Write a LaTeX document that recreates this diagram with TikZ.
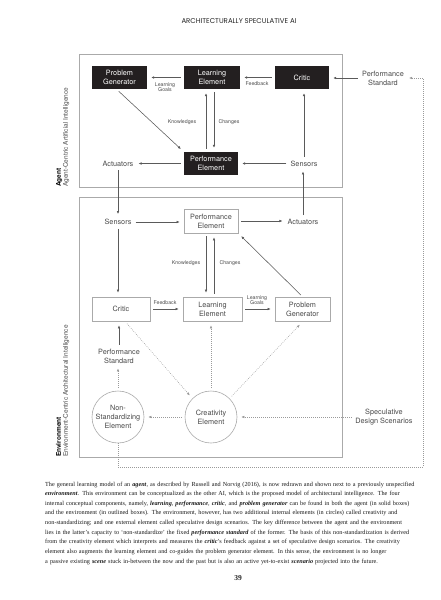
\documentclass[tikz,border=0pt]{standalone}
\usepackage{fontspec}
\setmainfont{Liberation Serif}
\newfontfamily\hv{TeX Gyre Heros}
\newfontfamily\popfont{Poppins}
\usetikzlibrary{arrows.meta,calc}
\definecolor{boxblack}{HTML}{231F20}
\definecolor{txtgray}{HTML}{4A4A4A}
\definecolor{linegray}{HTML}{5A5A5A}
\definecolor{framegray}{HTML}{AAAAAA}
\definecolor{dotgray}{HTML}{9A9A9A}
\newcommand{\bitx}[1]{\textbf{\textit{#1}}}
\begin{document}
\begin{tikzpicture}[x=1pt,y=-1pt,
  nf/.style={font=\hv\fontsize{7.3}{9}\selectfont},
  bbox/.style={nf, rectangle, fill=boxblack, text=white, minimum height=23pt, align=center, inner sep=0pt},
  obox/.style={nf, rectangle, draw=framegray, line width=0.7pt, text=txtgray, minimum height=24pt, align=center, inner sep=0pt},
  ptxt/.style={nf, text=txtgray, align=center, inner sep=1pt},
  circ/.style={nf, circle, draw=framegray, line width=0.6pt, text=txtgray, minimum size=52pt, align=center, inner sep=0pt},
  lbl/.style={font=\hv\fontsize{5.2}{5.6}\selectfont, text=txtgray, align=center, inner sep=0pt},
  arr/.style={-{Latex[length=3pt,width=2.6pt]}, line width=0.55pt, draw=linegray, shorten >=4pt, shorten <=3pt},
  darr/.style={arr, draw=dotgray, dash pattern=on 0.7pt off 1.3pt},
  frame/.style={draw=framegray, line width=0.8pt},
  side/.style={rotate=90, anchor=south west, inner sep=0pt, align=left, font=\hv\fontsize{6.5}{7}\selectfont, text=txtgray}
]
\useasboundingbox (0,0) rectangle (441,600);
\fill[white] (0,0) rectangle (441,600);

% header
\node[font=\popfont\fontsize{7}{8}\selectfont, text=black!85] (hdr) at (239,21) {ARCHITECTURALLY SPECULATIVE AI};

% frames
\draw[frame] (79,54) rectangle (342,187);
\draw[frame] (79,197) rectangle (342,457);

% side labels
\node[side] (sag) at (69.5,187) {\textcolor{black}{\textbf{Agent}}\\Agent-Centric Artificial Intelligence};
\node[side] (sen) at (69.5,457) {\textcolor{black}{\textbf{Environment}}\\Environment-Centric Architectural Intelligence};

% agent nodes
\node[bbox, minimum width=55pt] (apg) at (119.5,77.5) {Problem\\Generator};
\node[bbox, minimum width=56pt] (ale) at (212,77.5) {Learning\\Element};
\node[bbox, minimum width=54pt] (acr) at (302,77.5) {Critic};
\node[bbox, minimum width=54pt] (ape) at (211,163.5) {Performance\\Element};
\node[ptxt] (aact) at (118,163.5) {Actuators};
\node[ptxt] (asen) at (304,163.5) {Sensors};
\node[ptxt] (aps) at (383,78) {Performance\\Standard};

% agent edges
\draw[arr] (ale.west) -- (apg.east);
\node[lbl] (alg) at (165,87) {Learning\\Goals};
\draw[arr] (acr.west) -- (ale.east);
\node[lbl] (afb) at (257,84) {Feedback};
\draw[arr] ([xshift=-5pt]ape.north) -- ([xshift=-6pt]ale.south);
\draw[arr] ([xshift=2pt]ale.south) -- ([xshift=3pt]ape.north);
\node[lbl] (akn) at (182,122) {Knowledges};
\node[lbl] (ach) at (229,122) {Changes};
\draw[arr] ([xshift=-3pt]apg.south) -- (ape.north west);
\draw[arr] (ape.west) -- (ape.west -| aact.east);
\draw[arr] (asen.west) -- (asen.west -| ape.east);
\draw[arr] (asen.north) -- (asen.north |- acr.south);
\draw[arr] (aps.west) -- (aps.west -| acr.east);

% environment nodes
\node[ptxt] (esen) at (118,222) {Sensors};
\node[obox, minimum width=54pt] (epe) at (211,221) {Performance\\Element};
\node[ptxt] (eact) at (303,222) {Actuators};
\node[obox, minimum width=58pt] (ecr) at (121,309) {Critic};
\node[obox, minimum width=59pt] (ele) at (212.5,309) {Learning\\Element};
\node[obox, minimum width=55pt] (epg) at (302.5,309.5) {Problem\\Generator};
\node[ptxt] (eps) at (119,356) {Performance\\Standard};
\node[circ] (ens) at (118,417) {Non-\\Standardizing\\Element};
\node[circ] (ece) at (211,417) {Creativity\\Element};
\node[ptxt] (esds) at (384,417) {Speculative\\Design Scenarios};

% cross edges
\draw[arr] (aact.south) -- (aact.south |- esen.north);
\draw[arr] (eact.north) -- (eact.north |- asen.south);

% environment edges
\draw[arr] (esen.east) -- (esen.east -| epe.west);
\draw[arr] (epe.east) -- (epe.east -| eact.west);
\draw[arr] (esen.south) -- (esen.south |- ecr.north);
\draw[arr] (ecr.east) -- (ele.west);
\node[lbl] (efb) at (165,303) {Feedback};
\draw[arr] (ele.east) -- (ele.east -| epg.west);
\node[lbl] (elg) at (257,300) {Learning\\Goals};
\draw[arr] ([xshift=-5pt]epe.south) -- ([xshift=-6.5pt]ele.north);
\draw[arr] ([xshift=1.5pt]ele.north) -- ([xshift=3pt]epe.south);
\node[lbl] (ekn) at (186,263) {Knowledges};
\node[lbl] (ech) at (230,263) {Changes};
\draw[arr] ([xshift=0.5pt]epg.north) -- (epe.south east);
\draw[arr] (eps.north) -- (eps.north |- ecr.south);
\draw[darr] (ens.north) -- (ens.north |- eps.south);
\draw[darr] (ece.west) -- (ens.east);
\draw[darr] (esds.west) -- (esds.west -| ece.east);
\draw[darr] ([xshift=4pt]ecr.south) -- (ece.north west);
\draw[darr] (ece.north) -- (ece.north |- ele.south);
\draw[darr] (ece.north east) -- (epg.south);
\draw[darr, shorten <=0pt] (ens.south) -- (118,467) -- (423,467) -- (423,78) -- (aps.east);

% caption
\node[anchor=north west, inner sep=0pt, text width=368pt, font=\fontsize{6.2}{9.62}\selectfont, text=black!90] (cap) at (45,481.5) {%
\makebox[368pt][s]{The general learning model of an \bitx{agent}, as described by Russell and Norvig (2016), is now redrawn and shown next to a previously unspecified}\par
\makebox[368pt][s]{\bitx{environment}. This environment can be conceptualized as the other AI, which is the proposed model of architectural intelligence. The four}\par
\makebox[368pt][s]{internal conceptual components, namely, \bitx{learning}, \bitx{performance}, \bitx{critic}, and \bitx{problem generator} can be found in both the agent (in solid boxes)}\par
\makebox[368pt][s]{and the environment (in outlined boxes). The environment, however, has two additional internal elements (in circles) called creativity and}\par
\makebox[368pt][s]{non-standardizing; and one external element called speculative design scenarios. The key difference between the agent and the environment}\par
\makebox[368pt][s]{lies in the latter's capacity to `non-standardize' the fixed \bitx{performance standard} of the former. The basis of this non-standardization is derived}\par
\makebox[368pt][s]{from the creativity element which interprets and measures the \bitx{critic}'s feedback against a set of speculative design scenarios. The creativity}\par
element also augments the learning element and co-guides the problem generator element. In this sense, the environment is no longer\par
a passive existing \bitx{scene} stuck in-between the now and the past but is also an active yet-to-exist \bitx{scenario} projected into the future.\par};

% page number
\node[font=\fontsize{7.5}{8}\selectfont\bfseries, text=black!85] (pgn) at (238,578) {39};
\end{tikzpicture}
\end{document}
